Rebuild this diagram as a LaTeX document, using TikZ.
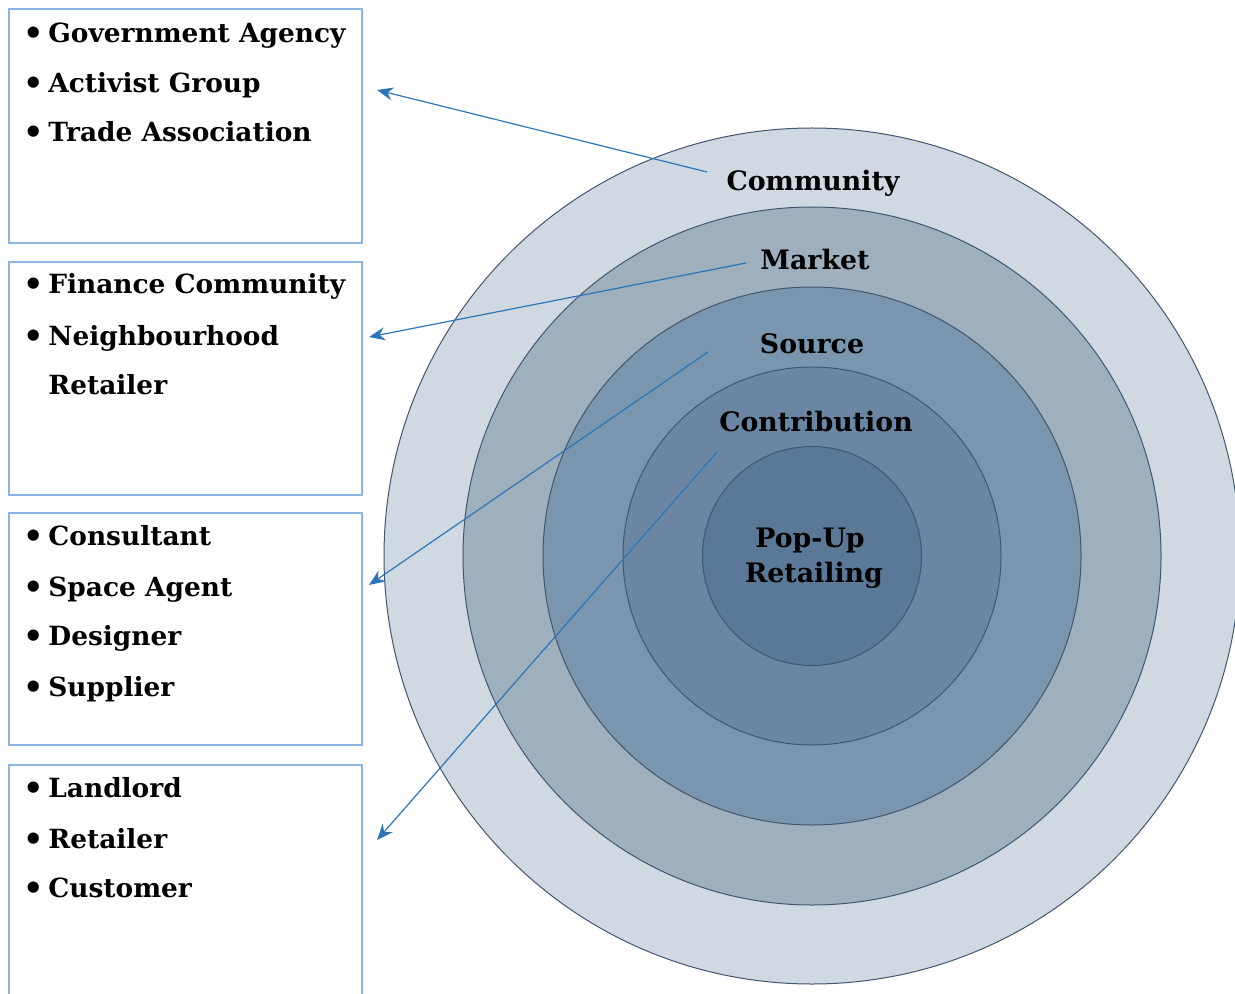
\documentclass[tikz,border=0pt]{standalone}
\usepackage{fontspec}
\setmainfont{DejaVu Serif}
\usetikzlibrary{arrows.meta}
\definecolor{boxline}{HTML}{8DB4E2}
\definecolor{ringline}{HTML}{42566E}
\definecolor{ringA}{HTML}{D0D8E2}
\definecolor{ringB}{HTML}{9EAFBE}
\definecolor{ringC}{HTML}{7A95AE}
\definecolor{ringD}{HTML}{6A86A2}
\definecolor{ringE}{HTML}{5B7896}
\definecolor{arrowblue}{HTML}{2E75B6}
\tikzset{
  listbox/.style={draw=boxline, line width=0.8pt, fill=white},
  ring/.style={circle, draw=ringline, line width=0.5pt, inner sep=0pt},
  item/.style={anchor=base west, inner sep=0pt, font=\bfseries\fontsize{13.2}{15}\selectfont},
  lbl/.style={anchor=base, inner sep=0pt, font=\bfseries\fontsize{13.4}{15}\selectfont},
  dot/.style={anchor=base, inner sep=0pt, font=\bfseries\fontsize{16}{15}\selectfont},
  pointer/.style={draw=arrowblue, line width=0.6pt, -{Stealth[length=8pt,width=6.5pt]}}
}
\begin{document}
\begin{tikzpicture}[x=0.5pt,y=-0.5pt]
\useasboundingbox (0,0) rectangle (1235,994);
% boxes
\draw[listbox] (9,9) rectangle (362,243);
\draw[listbox] (9,262) rectangle (362,495);
\draw[listbox] (9,513) rectangle (362,745);
\draw[listbox] (9,765) rectangle (362,1010);
\coordinate (b1) at (377,90);
\coordinate (b2) at (369,337);
\coordinate (b3) at (369,585);
\coordinate (b4) at (377,840);
% rings
\node[ring, fill=ringA, minimum size=428pt] (c1) at (812,556) {};
\node[ring, fill=ringB, minimum size=349pt] (c2) at (812,556) {};
\node[ring, fill=ringC, minimum size=269pt] (c3) at (812,556) {};
\node[ring, fill=ringD, minimum size=189pt] (c4) at (812,556) {};
\node[ring, fill=ringE, minimum size=109.5pt] (c5) at (812,556) {};
% ring labels
\node[lbl] (community) at (813,191) {Community};
\node[lbl] (market) at (815,270) {Market};
\node[lbl] (source) at (812,353) {Source};
\node[lbl] (contribution) at (816,431) {Contribution};
\node[lbl] (popup) at (810,547) {Pop-Up};
\node[lbl] (retailing) at (814,582) {Retailing};
% arrow starts
\coordinate (s1) at (707,172);
\coordinate (s2) at (746,263);
\coordinate (s3) at (708,352);
\coordinate (s4) at (717,452);
\draw[pointer] (s1) -- (b1);
\draw[pointer] (s2) -- (b2);
\draw[pointer] (s3) -- (b3);
\draw[pointer] (s4) -- (b4);
% box items
\foreach \y/\t [count=\i] in {43/Government Agency,93/Activist Group,142/Trade Association,
  294/Finance Community,345/Neighbourhood,394/Retailer,
  545/Consultant,596/Space Agent,645/Designer,696/Supplier,
  797/Landlord,848/Retailer,897/Customer}{
  \node[item] (t\i) at (48,\y) {\t};
}
\foreach \y [count=\i] in {45,95,144,296,347,547,598,647,698,799,850,899}{
  \node[dot] (d\i) at (34,\y) {•};
}
\end{tikzpicture}
\end{document}
